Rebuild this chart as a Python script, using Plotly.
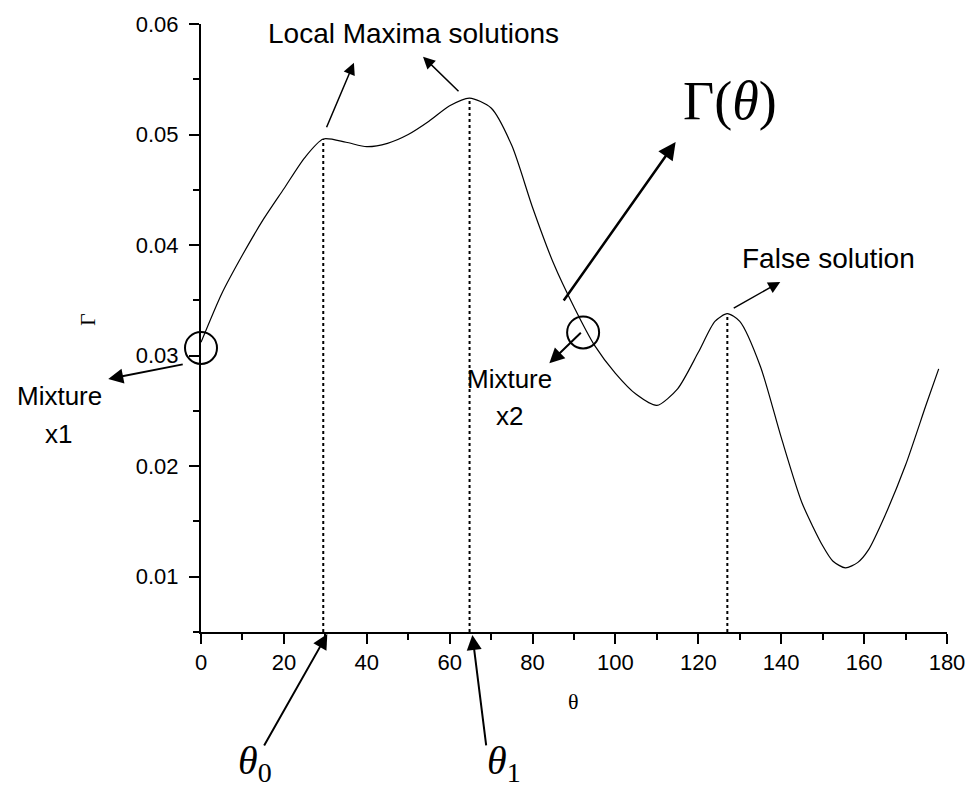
import plotly.graph_objects as go

# ---------------- data ----------------
theta = [0, 5, 10, 15, 20, 25, 29.5, 35, 40, 45, 50, 55, 60, 64.8, 70, 75, 80, 85,
         90, 95, 100, 105, 110, 115, 120, 124, 127, 130, 135, 140, 145, 150, 152.5,
         155.5, 158.5, 161, 165, 170, 175, 178]
gamma = [0.0312, 0.0356, 0.0391, 0.0423, 0.0451, 0.0479, 0.0496, 0.0493, 0.0489,
         0.0492, 0.0500, 0.0512, 0.0526, 0.0533, 0.0524, 0.0490, 0.0434, 0.0384,
         0.0344, 0.0309, 0.0284, 0.0265, 0.0255, 0.0270, 0.0303, 0.0331, 0.0338,
         0.0331, 0.0290, 0.0226, 0.0167, 0.0128, 0.0114, 0.0108, 0.0113, 0.0124,
         0.0155, 0.0201, 0.0256, 0.0288]
peak_theta = [29.5, 64.8, 127]
peak_gamma = [0.0496, 0.0533, 0.0338]
mixture_theta = [0, 92.2]
mixture_gamma = [0.0307, 0.0321]

x_tickvals = [0, 20, 40, 60, 80, 100, 120, 140, 160, 180]
y_tickvals = [0.01, 0.02, 0.03, 0.04, 0.05, 0.06]
y_ticktext = ["0.01", "0.02", "0.03", "0.04", "0.05", "0.06"]

XMIN, XMAX = 0, 180
YMIN, YMAX = 0.005, 0.06

# plot-area geometry (pixels)
W, H = 977, 791
L, R, T, B = 201, 20, 19, 159
PW = W - L - R
PH = H - T - B


def px_paper(px):
    return (px - L) / PW


def py_paper(py):
    return (T + PH - py) / PH


def xd_paper(x):
    return (x - XMIN) / (XMAX - XMIN)


def yd_paper(y):
    return (y - YMIN) / (YMAX - YMIN)


fig = go.Figure()

fig.add_trace(go.Scatter(x=theta, y=gamma, mode="lines",
                         line=dict(color="black", width=1.2, shape="spline", smoothing=0.7),
                         showlegend=False, hoverinfo="skip"))

for px_, py_ in zip(peak_theta, peak_gamma):
    fig.add_trace(go.Scatter(x=[px_, px_], y=[YMIN, py_], mode="lines",
                             line=dict(color="black", width=2, dash="dot"),
                             showlegend=False, hoverinfo="skip", cliponaxis=False))

shapes = []
for mx, my in zip(mixture_theta, mixture_gamma):
    shapes.append(dict(type="circle", xref="paper", yref="paper", xsizemode="pixel",
                       ysizemode="pixel", xanchor=xd_paper(mx), yanchor=yd_paper(my),
                       x0=-16, x1=16, y0=-16, y1=16,
                       line=dict(color="black", width=2)))

ann = []


def arrow(tail, tip, width=1.8, size=1.5):
    ann.append(dict(x=px_paper(tip[0]), y=py_paper(tip[1]),
                    ax=tail[0] - tip[0], ay=tail[1] - tip[1],
                    xref="paper", yref="paper", axref="pixel", ayref="pixel", text="",
                    showarrow=True, arrowhead=2, arrowsize=size, arrowwidth=width,
                    arrowcolor="black", standoff=0, startstandoff=0))


def label(text, p, size, family="Liberation Sans, Arial, sans-serif", angle=0):
    ann.append(dict(x=px_paper(p[0]), y=py_paper(p[1]), xref="paper", yref="paper",
                    text=text, showarrow=False,
                    xanchor="center", yanchor="middle", textangle=angle,
                    font=dict(size=size, family=family, color="black")))


# arrows
arrow((328, 124), (356, 58), width=1.5, size=1.6)
arrow((463, 88), (426, 52), width=1.5, size=1.6)
arrow((569, 298), (682, 138), width=2.5, size=1.4)
arrow((740, 306), (788, 279), width=1.5, size=1.6)
arrow((587, 329), (554, 361), width=2, size=1.5)
arrow((183, 362), (107, 377), width=2, size=1.5)
arrow((265, 747), (329, 634), width=2, size=1.5)
arrow((490, 747), (476, 635), width=2, size=1.5)

# labels
serif = "Liberation Serif, Times New Roman, serif"
label("Local Maxima solutions", (416, 29), 28)
label("False solution", (837, 255), 28)
label("Mixture", (58, 394), 26)
label("x1", (57, 432), 26)
label("Mixture", (514, 377), 26)
label("x2", (514, 414), 26)
label("Γ(<i>θ</i>)", (737, 97), 54, family=serif)
label("<i>θ</i><sub>0</sub>", (256, 764), 40, family=serif)
label("<i>θ</i><sub>1</sub>", (508, 764), 40, family=serif)
label("θ", (578, 702), 22, family=serif)
label("Γ", (86, 317), 22, family=serif, angle=-90)

fig.update_layout(
    width=W, height=H,
    margin=dict(l=L, r=R, t=T, b=B, pad=0),
    plot_bgcolor="white", paper_bgcolor="white",
    shapes=shapes, annotations=ann,
    font=dict(family="Liberation Sans, Arial, sans-serif", color="black"),
    xaxis=dict(range=[XMIN, XMAX], tickvals=x_tickvals, ticks="outside", ticklen=10,
               tickwidth=2, tickcolor="black", showline=True, linewidth=2, linecolor="black",
               showgrid=False, zeroline=False, tickfont=dict(size=22),
               minor=dict(dtick=10, tick0=0, ticks="outside", ticklen=6, tickwidth=2,
                          tickcolor="black", showgrid=False)),
    yaxis=dict(range=[YMIN, YMAX], tickvals=y_tickvals, ticktext=y_ticktext, ticks="outside",
               ticklen=10, tickwidth=2, tickcolor="black", showline=True, linewidth=2,
               linecolor="black", showgrid=False, zeroline=False, tickfont=dict(size=22),
               ticklabelstandoff=6,
               minor=dict(tickvals=[0.005, 0.015, 0.025, 0.035, 0.045, 0.055], ticks="outside",
                          ticklen=6, tickwidth=2, tickcolor="black", showgrid=False)),
)

fig.write_html("out.html")
